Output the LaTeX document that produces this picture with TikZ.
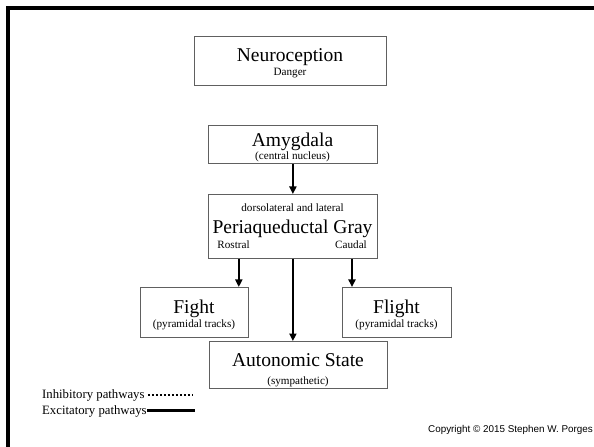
\documentclass[tikz,border=0pt]{standalone}
\usepackage{fontspec}
\setmainfont{Liberation Serif}
\newfontfamily\arialfont{Liberation Sans}
\usetikzlibrary{arrows.meta,calc}
\tikzset{
  box/.style={draw=gray!75!black, line width=0.8bp, fill=white, inner sep=0pt,
    minimum width=#1, anchor=north west},
  shade/.style={fill=gray!55, draw=none},
  big/.style={font=\fontsize{19.6}{22}\selectfont, anchor=base, inner sep=0pt},
  small/.style={font=\fontsize{11.2}{13}\selectfont, anchor=base, inner sep=0pt},
  legend/.style={font=\fontsize{12.8}{15}\selectfont, anchor=base west, inner sep=0pt},
  arr/.style={line width=1.9bp, -{Triangle[width=7bp,length=7.5bp]}},
}
% draws a shadowed box from its top-left corner (#2) with size #3 x #4
\newcommand{\shadowbox}[4]{%
  \fill[shade] ($(#2)+(1.3,1.3)$) rectangle ++(#3,#4);
  \node[box=#3 bp, minimum height=#4 bp] (#1) at (#2) {};
}
\begin{document}
\begin{tikzpicture}[x=1bp,y=-1bp]
  \useasboundingbox (0,0) rectangle (594,447);
  \fill[white] (0,0) rectangle (594,447);
  % slide frame
  \draw[line width=3.5bp] (8,447) -- (8,8) -- (594,8);

  % boxes
  \shadowbox{neuro}{194,36}{192}{49}
  \shadowbox{amyg}{208,125}{169}{38}
  \shadowbox{pag}{208,194}{169}{64}
  \shadowbox{fight}{140,287}{108}{50}
  \shadowbox{flight}{342,287}{109}{50}
  \shadowbox{auto}{209,341}{178}{47}

  % box texts
  \node[big]   (tNeuro) at (290,62) {Neuroception};
  \node[small] (tDanger) at (290,75.5) {Danger};
  \node[big]   (tAmyg) at (292.5,146.5) {Amygdala};
  \node[small] (tCentral) at (292.5,160) {(central nucleus)};
  \node[small] (tDorso) at (292.5,211.5) {dorsolateral and lateral};
  \node[big]   (tPag) at (292.5,234) {Periaqueductal Gray};
  \node[small] (rostral) at (233.5,249) {Rostral};
  \node[small] (caudal) at (351,249) {Caudal};
  \node[big]   (tFight) at (194,313) {Fight};
  \node[small] (tPyrL) at (194,327.5) {(pyramidal tracks)};
  \node[big]   (tFlight) at (396.5,313) {Flight};
  \node[small] (tPyrR) at (396.5,327.5) {(pyramidal tracks)};
  \node[big]   (tAuto) at (298,366) {Autonomic State};
  \node[small] (tSymp) at (298,384) {(sympathetic)};

  % connectors
  \coordinate (fr) at ([xshift=-10bp]fight.north east);
  \coordinate (fl) at ([xshift=10bp]flight.north west);
  \draw[arr] (amyg.south) -- (pag.north);
  \draw[arr] (pag.south -| fr) -- (fr);
  \draw[arr] (pag.south -| fl) -- (fl);
  \draw[arr] (pag.south) -- (pag.south |- auto.north);

  % legend
  \node[legend] (inh) at (42,398) {Inhibitory pathways};
  \node[legend] (exc) at (42,414) {Excitatory pathways};
  \coordinate (inhEnd) at (192,394.5);
  \coordinate (excEnd) at (195,410.5);
  \draw[line width=2bp, dash pattern=on 2bp off 2bp] (inh.east |- inhEnd) ++(3,0) -- (inhEnd);
  \draw[line width=3bp] (exc.east |- excEnd) -- (excEnd);

  % copyright
  \node[font=\arialfont\fontsize{9.9}{12}\selectfont, anchor=base east, inner sep=0pt]
    (copy) at (593,432) {Copyright © 2015 Stephen W. Porges};
\end{tikzpicture}
\end{document}
